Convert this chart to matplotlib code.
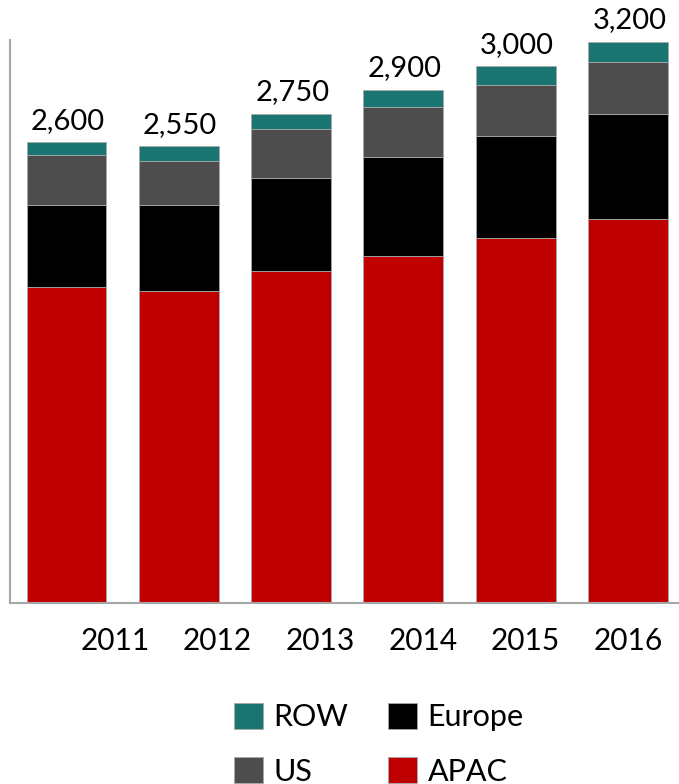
import numpy as np
import matplotlib.pyplot as plt

years = ['2011', '2012', '2013', '2014', '2015', '2016']
apac = [1800, 1780, 1890, 1980, 2080, 2190]
europe = [470, 490, 535, 560, 580, 600]
us = [285, 250, 275, 285, 295, 295]
row = [70, 85, 90, 100, 105, 115]
total_labels = ['2,600', '2,550', '2,750', '2,900', '3,000', '3,200']

plt.rcParams['font.family'] = ['Lato', 'DejaVu Sans']

fig = plt.figure(figsize=(6.79, 7.84), dpi=100)
ax = fig.add_axes([10/679, 181/784, 669/679, 563/784])

x = np.arange(len(years))
w = 0.712
edge = dict(edgecolor='#a8a8a8', linewidth=0.6)

b1 = ax.bar(x, apac, w, color='#c00000', label='APAC', **edge)
bottom = np.array(apac)
b2 = ax.bar(x, europe, w, bottom=bottom, color='#000000', label='Europe', **edge)
bottom = bottom + np.array(europe)
b3 = ax.bar(x, us, w, bottom=bottom, color='#4d4d4d', label='US', **edge)
bottom = bottom + np.array(us)
b4 = ax.bar(x, row, w, bottom=bottom, color='#1a7570', label='ROW', **edge)
bottom = bottom + np.array(row)

for xi, top, lab in zip(x, bottom, total_labels):
    ax.annotate(lab, (xi, top), xytext=(1, 6), textcoords='offset points',
                ha='center', va='bottom', fontsize=21, clip_on=False)

ax.set_xlim(-0.503, 5.454)
ax.set_ylim(0, 3209)
# year labels sit a bit right of the bars in the original
ax.set_xticks(np.linspace(0.432, 5.0, len(years)))
ax.set_xticklabels(years, fontsize=21.5)
ax.set_yticks([])
ax.tick_params(axis='x', length=0, pad=17)
for s in ['top', 'right']:
    ax.spines[s].set_visible(False)
for s in ['left', 'bottom']:
    ax.spines[s].set_color('#a6a6a6')
    ax.spines[s].set_linewidth(1.5)

fig.legend([b4, b3, b2, b1], ['ROW', 'US', 'Europe', 'APAC'], ncol=2,
           loc='upper left', bbox_to_anchor=(234/679, 1 - 703/784),
           frameon=False, fontsize=22, handlelength=0.95, handleheight=0.93,
           handletextpad=0.34, columnspacing=1.3, labelspacing=0.85,
           borderpad=0, borderaxespad=0)

fig.savefig('out.png', dpi=100)
